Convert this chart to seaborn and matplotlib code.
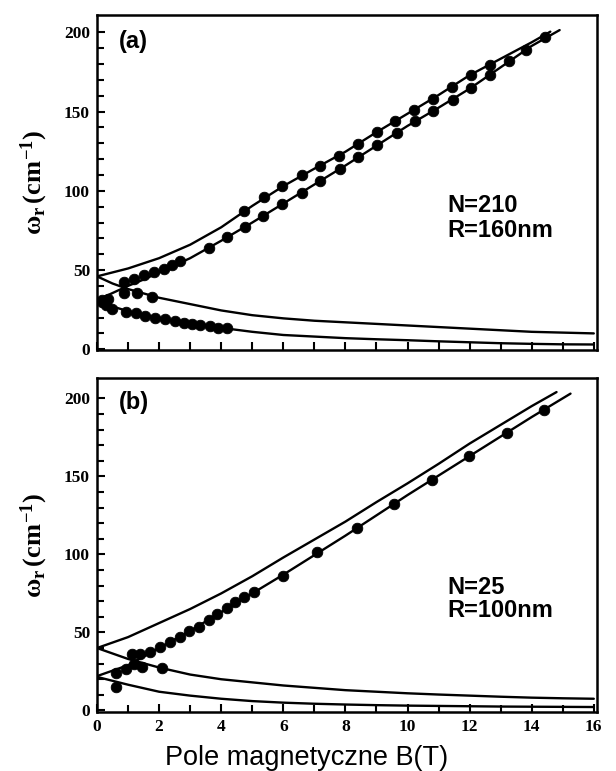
import numpy as np
import pandas as pd
import matplotlib
matplotlib.use('Agg')
import matplotlib.pyplot as plt
import seaborn as sns

# ---- panel (a): N=210, R=160nm ----
# solid curves, values
a_B_up = [0, 1, 2, 3, 4, 5, 6, 7, 8, 9, 10, 11, 12, 13, 14, 14.6]
a_w_up = [46, 51, 57.5, 66, 77, 90.5, 103, 114, 124.7, 137, 148.7, 160.5, 173, 183.4, 193.8, 200.5]
a_B_lo = [0, 0.5, 1, 1.5, 2, 3, 4, 5, 6, 7, 8, 9, 10, 11, 12, 13, 14, 14.9]
a_w_lo = [31, 35.5, 40, 44, 48.5, 57.5, 68.5, 80, 92, 104, 116, 128.5, 141, 152.5, 164.5, 178, 191.5, 201.5]
a_B_dn = [0, 0.5, 1, 2, 3, 4, 5, 6, 7, 8, 9, 10, 11, 12, 13, 14, 15, 16]
a_w_dn1 = [46, 41.5, 38, 32.5, 28.5, 24.5, 21.5, 19.5, 18, 17, 16, 15, 14, 13, 12, 11, 10.5, 10]
a_w_dn2 = [31, 27, 24, 19.5, 16.5, 13.5, 11, 9, 8, 7, 6.3, 5.7, 5, 4.4, 3.8, 3.4, 3.1, 3]

# measured points
a_pB_up = [4.74, 5.39, 5.97, 6.6, 7.19, 7.8, 8.4, 9.01, 9.6, 10.21, 10.83, 11.43, 12.03, 12.65]
a_pw_up = [87, 96, 103, 109.7, 116, 122.3, 129.5, 137.1, 144.3, 151.3, 158, 165.5, 173.4, 179.7]
a_pB_lo = [0.86, 1.18, 1.5, 1.83, 2.15, 2.42, 2.68, 3.6, 4.19, 4.77, 5.36, 5.97, 6.6, 7.19,
           7.83, 8.42, 9.01, 9.65, 10.24, 10.83, 11.45, 12.06, 12.65, 13.26, 13.83, 14.42]
a_pw_lo = [42.6, 44.1, 46.8, 48.9, 50.4, 53.2, 55.5, 63.7, 71.1, 77.4, 84.2, 91.8, 98.5, 106.5,
           113.9, 121.3, 128.7, 136.5, 143.9, 150.2, 157.5, 165, 173.4, 181.8, 189, 197]
a_pB_dn1 = [0.15, 0.35, 0.86, 1.29, 1.77]
a_pw_dn1 = [31, 31.5, 35.2, 35.2, 33.1]
a_pB_dn2 = [0.15, 0.3, 0.49, 0.92, 1.24, 1.56, 1.88, 2.2, 2.52, 2.79, 3.06, 3.33, 3.65, 3.91, 4.19]
a_pw_dn2 = [30, 28, 25.7, 23.6, 22.6, 20.9, 19.8, 18.8, 17.7, 16.6, 15.8, 15.2, 14.6, 13.7, 13.1]

# ---- panel (b): N=25, R=100nm ----
b_B_up = [0, 1, 2, 3, 4, 5, 6, 7, 8, 9, 10, 11, 12, 13, 14, 14.8]
b_w_up = [40, 47, 56, 65, 75, 86, 98, 109.5, 121, 133.5, 145.5, 158, 171, 183, 195, 204]
b_B_lo = [0, 1, 2, 3, 4, 5, 6, 7, 8, 9, 10, 11, 12, 13, 14, 15.25]
b_w_lo = [22, 29, 40, 51, 63, 75, 87, 99.5, 112, 125, 138, 150.5, 163, 175.5, 188, 203]
b_B_dn = [0, 1, 2, 3, 4, 5, 6, 7, 8, 9, 10, 11, 12, 13, 14, 15, 16]
b_w_dn1 = [40, 33, 27.5, 23, 20, 18, 16, 14.5, 13, 12, 11, 10.2, 9.5, 8.8, 8.2, 7.8, 7.5]
b_w_dn2 = [21.5, 16.5, 12, 9.5, 7.5, 6, 5, 4.3, 3.8, 3.4, 3.1, 2.9, 2.7, 2.5, 2.4, 2.3, 2.2]

b_pB_lo = [0.6, 0.92, 1.13, 1.4, 1.72, 2.04, 2.36, 2.68, 2.95, 3.27, 3.6, 3.86, 4.19, 4.45,
           4.72, 5.04, 6.0, 7.1, 8.37, 9.57, 10.78, 11.99, 13.19, 14.39]
b_pw_lo = [24, 26.6, 36.2, 36.2, 37.3, 40.5, 43.6, 46.8, 50.7, 53.7, 58, 61.8, 65.6, 69.2,
           72.4, 75.6, 86.3, 101.4, 116.7, 132.1, 147.9, 162.9, 177.8, 192.7]
b_pB_dn = [0.6, 1.2, 1.45, 2.1]
b_pw_dn = [15, 30, 28, 27]

sns.set_style('ticks', {'axes.edgecolor': 'black', 'text.color': 'black',
                        'xtick.color': 'black', 'ytick.color': 'black',
                        'axes.labelcolor': 'black'})
plt.rcParams['mathtext.fontset'] = 'custom'
plt.rcParams['mathtext.rm'] = 'Liberation Serif:bold'
plt.rcParams['mathtext.it'] = 'Liberation Serif:bold'
plt.rcParams['mathtext.bf'] = 'Liberation Serif:bold'

fig = plt.figure(figsize=(6.16, 7.71), dpi=100)
ax_a = fig.add_axes([0.1575, 0.546, 0.8115, 0.4345])
ax_b = fig.add_axes([0.1575, 0.0765, 0.8115, 0.4332])


def draw_panel(ax, curves, points):
    for xs, ys in curves:
        sns.lineplot(x=xs, y=ys, ax=ax, color='black', lw=1.7, sort=False, estimator=None)
    for xs, ys in points:
        sns.scatterplot(x=xs, y=ys, ax=ax, color='black', edgecolor='black', s=58, zorder=3)


draw_panel(ax_a,
           [(a_B_up, a_w_up), (a_B_lo, a_w_lo), (a_B_dn, a_w_dn1), (a_B_dn, a_w_dn2)],
           [(a_pB_up, a_pw_up), (a_pB_lo, a_pw_lo), (a_pB_dn1, a_pw_dn1), (a_pB_dn2, a_pw_dn2)])
draw_panel(ax_b,
           [(b_B_up, b_w_up), (b_B_lo, b_w_lo), (b_B_dn, b_w_dn1), (b_B_dn, b_w_dn2)],
           [(b_pB_lo, b_pw_lo), (b_pB_dn, b_pw_dn)])

ylabel = r'$\omega_{r}\,(cm^{-1})$'
for ax, ylim in [(ax_a, (-0.5, 211)), (ax_b, (-1, 213))]:
    ax.set_xlim(0, 16.1)
    ax.set_ylim(*ylim)
    ax.set_yticks([0, 50, 100, 150, 200])
    ax.set_yticks(np.arange(0, 201, 10), minor=True)
    ax.set_xticks(np.arange(0, 17, 2))
    ax.set_xticks(np.arange(0, 17, 1), minor=True)
    ax.tick_params(which='both', direction='in', width=1.5, top=False, right=False,
                   colors='black')
    ax.tick_params(which='major', length=6, pad=5)
    ax.tick_params(which='minor', length=5)
    for sp in ax.spines.values():
        sp.set_linewidth(1.8)
        sp.set_color('black')
    for lab in ax.get_yticklabels() + ax.get_xticklabels():
        lab.set_fontfamily('Liberation Serif')
        lab.set_fontweight('bold')
        lab.set_fontsize(12.5)
    ax.set_ylabel(ylabel, fontsize=19, color='black')
    ax.yaxis.set_label_coords(-0.095, 0.5)

ax_a.set_xticks(np.arange(0, 17, 1))
ax_a.tick_params(axis='x', labelbottom=False)

ax_b.set_xlabel('Pole magnetyczne B(T)', fontsize=19.5, fontfamily='Liberation Sans', color='black')
ax_b.xaxis.set_label_coords(0.42, -0.1)

txt = dict(fontsize=17, fontweight='bold', fontfamily='Liberation Sans', va='center',
           ha='left', color='black')
ax_a.text(0.7, 194, '(a)', **txt)
ax_a.text(11.27, 91, 'N=210', **txt)
ax_a.text(11.27, 75, 'R=160nm', **txt)
ax_b.text(0.7, 197, '(b)', **txt)
ax_b.text(11.3, 79, 'N=25', **txt)
ax_b.text(11.3, 64, 'R=100nm', **txt)

fig.savefig('out.png', dpi=100)
